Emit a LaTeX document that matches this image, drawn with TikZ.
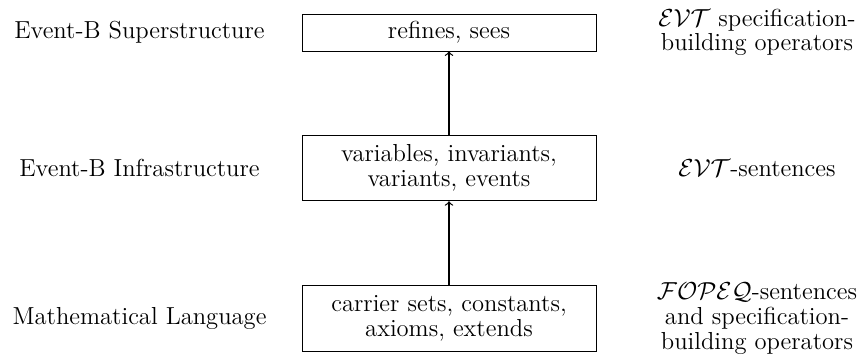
\documentclass[tikz,border=0pt]{standalone}
\begin{document}
\begin{tikzpicture}[x=0.4878pt,y=-0.4878pt,
  every node/.style={font=\fontsize{12}{12}\selectfont},
  layerbox/.style={draw,line width=0.4pt,minimum width=143.4pt,align=center,inner sep=0pt},
  sidelabel/.style={align=center,inner sep=0pt},
  uparrow/.style={->,semithick}]
\useasboundingbox (0,0) rectangle (860,356);
% boxes
\node[layerbox,minimum height=18pt] (sup) at (449,32.5) {refines, sees};
\node[layerbox,minimum height=32pt] (inf) at (449,168) {variables, invariants,\\variants, events};
\node[layerbox,minimum height=32pt] (math) at (449,318.5) {carrier sets, constants,\\axioms, extends};
% left labels
\node[sidelabel] (lsup) at (139.5,32.5) {Event-B Superstructure};
\node[sidelabel] (linf) at (139.5,168) {Event-B Infrastructure};
\node[sidelabel] (lmath) at (139.5,318.5) {Mathematical Language};
% right labels
\node[sidelabel] (rsup) at (757,32.5) {$\mathcal{EVT}$ specification-\\building operators};
\node[sidelabel] (rinf) at (757,168) {$\mathcal{EVT}$-sentences};
\node[sidelabel] (rmath) at (757,318.5) {$\mathcal{FOPEQ}$-sentences\\and specification-\\building operators};
% arrows
\draw[uparrow] (math.north) -- (inf.south);
\draw[uparrow] (inf.north) -- (sup.south);
\end{tikzpicture}
\end{document}
